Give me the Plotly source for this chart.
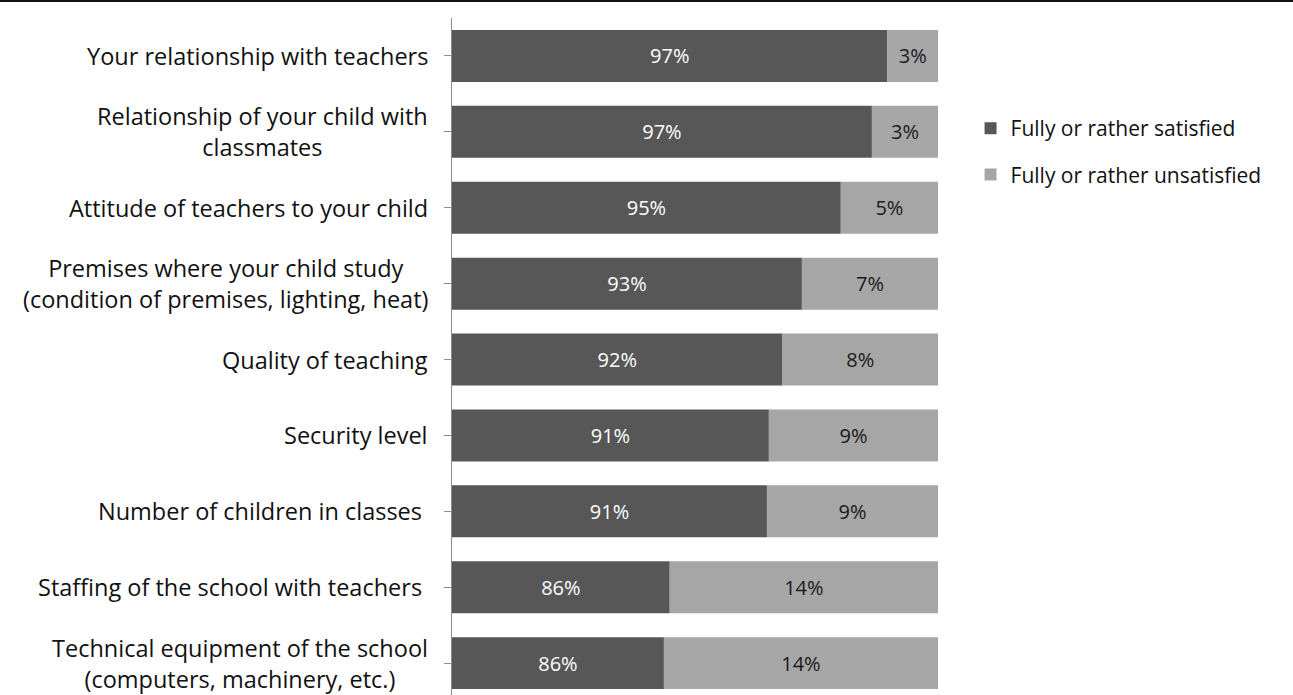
import plotly.graph_objects as go

categories = [
    "Your relationship with teachers",
    "Relationship of your child with<br>classmates",
    "Attitude of teachers to your child",
    "Premises where your child study<br>(condition of premises, lighting, heat)",
    "Quality of teaching",
    "Security level",
    "Number of children in classes ",
    "Staffing of the school with teachers ",
    "Technical equipment of the school<br>(computers, machinery, etc.)",
]
satisfied = [97.4, 96.6, 95.0, 93.0, 92.0, 91.3, 91.2, 86.2, 85.9]
unsatisfied = [2.6, 3.4, 5.0, 7.0, 8.0, 8.7, 8.8, 13.8, 14.1]
series_names = ["Fully or rather satisfied", "Fully or rather unsatisfied"]
axis_min, axis_max = 75, 100

FONT = "Open Sans"
DARK = "#575757"
LIGHT = "#a6a6a6"

idx = list(range(len(categories)))

fig = go.Figure()
fig.add_trace(go.Bar(
    y=idx, x=[s - axis_min for s in satisfied], base=axis_min, orientation="h",
    name=series_names[0], marker=dict(color=DARK, line=dict(width=0)),
    text=[f"{round(s)}%" for s in satisfied], textposition="inside",
    insidetextanchor="middle", textfont=dict(color="white", size=20, family=FONT),
    width=0.685, legendgroup="a",
))
fig.add_trace(go.Bar(
    y=idx, x=unsatisfied, base=satisfied, orientation="h",
    name=series_names[1], marker=dict(color=LIGHT, line=dict(width=0)),
    text=[f"{round(u)}%" for u in unsatisfied], textposition="inside",
    insidetextanchor="middle", textfont=dict(color="#1a1a1a", size=20, family=FONT),
    width=0.685, legendgroup="b",
))

for i, c in zip(idx, categories):
    fig.add_annotation(
        x=0, xref="paper", y=i, yref="y", text=c, showarrow=False,
        xanchor="right", align="center", xshift=-22,
        font=dict(size=23.5, family=FONT, color="#111"),
    )

# top border line
fig.add_shape(type="line", xref="paper", yref="paper", x0=-2, x1=2,
              y0=1.0251, y1=1.0251, line=dict(color="#111", width=2))

fig.update_layout(
    width=1293, height=695,
    margin=dict(l=452, r=355, t=18, b=0),
    barmode="overlay",
    plot_bgcolor="white", paper_bgcolor="white",
    font=dict(family=FONT, size=20, color="#111"),
    xaxis=dict(range=[axis_min, axis_max], visible=False, fixedrange=True),
    yaxis=dict(
        range=[8.42, -0.5], tickmode="array", tickvals=idx,
        ticktext=[""] * len(idx), showticklabels=False,
        tickson="boundaries", ticks="outside", ticklen=7,
        tickcolor="#8c8c8c", showline=True, linecolor="#8c8c8c", linewidth=1,
        showgrid=False, zeroline=False,
    ),
    legend=dict(
        x=1.067, y=0.867, xanchor="left", yanchor="top",
        font=dict(size=21, family=FONT, color="#111"),
        tracegroupgap=16, traceorder="grouped", itemwidth=30,
        bgcolor="rgba(0,0,0,0)",
    ),
    showlegend=True,
)

fig.write_html("out.html", config={"displayModeBar": False},
               post_script="document.body.style.margin='0';document.body.style.overflow='hidden';")
